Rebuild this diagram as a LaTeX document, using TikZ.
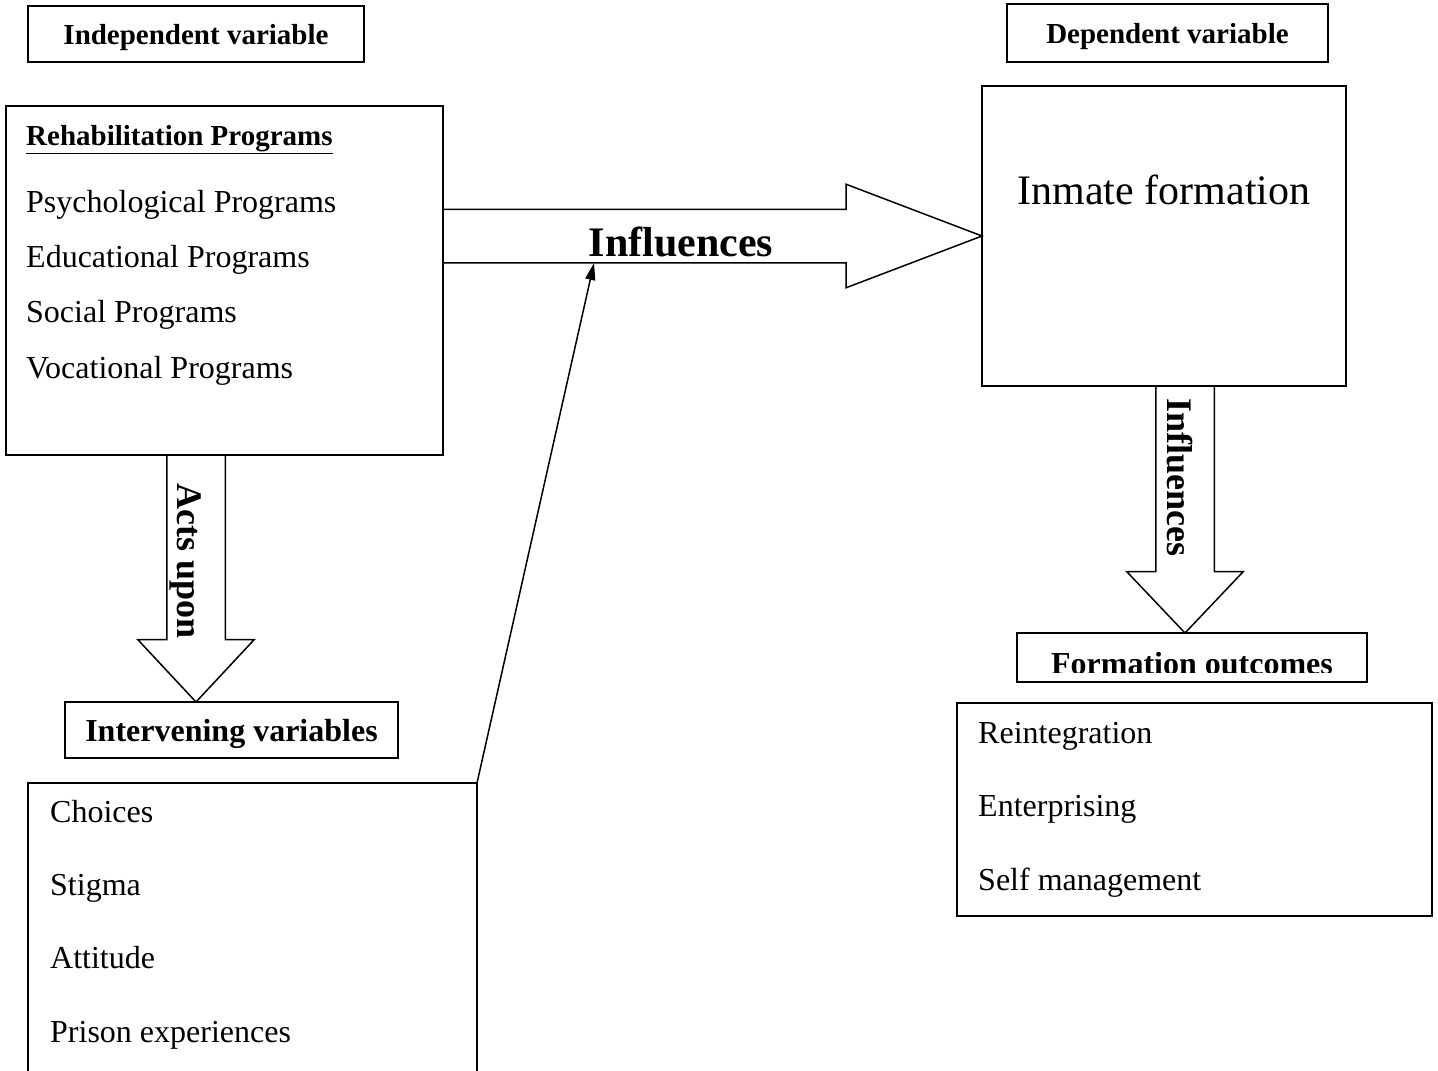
\documentclass[tikz,border=0pt]{standalone}
\usepackage{fontspec}
\setmainfont{Liberation Serif}
\usetikzlibrary{shapes.arrows, arrows.meta, positioning}
\tikzset{
x=1pt, y=-1pt, % one unit per pixel, y grows downwards
box/.style={draw, line width=1.5pt, rectangle, inner sep=0pt, outer sep=0pt, anchor=north west}, % plain frame
headbox/.style={box, font=\bfseries\fontsize{29}{34}\selectfont, text depth=0pt}, % framed heading
listtext/.style={anchor=base west, inner sep=0pt, align=left}, % list of items, placed by its last line
bigarrow/.style={draw, line width=1.5pt, single arrow, single arrow head indent=0pt, outer sep=0pt, anchor=tip}, % hollow block arrow
arrowlabel/.style={font=\bfseries\fontsize{36}{40}\selectfont, inner sep=0pt}, % bold text on a block arrow
}

\begin{document}
\begin{tikzpicture}
\useasboundingbox (0,0) rectangle (1438,1071);

% independent side
\node[headbox, minimum width=336pt, minimum height=56pt] (indep) at (28,6) {Independent variable};
\node[box, minimum width=437pt, minimum height=349pt] (rehab) at (6,106) {};
\node[listtext, font=\bfseries\fontsize{29}{34}\selectfont] (rehabtitle) at (26,145) {\underline{Rehabilitation Programs}};
\node[listtext, font=\fontsize{32}{55.3}\selectfont] (rehablist) at (26,378) {Psychological Programs\\Educational Programs\\Social Programs\\Vocational Programs};

% dependent side
\node[headbox, minimum width=321pt, minimum height=58pt] (dep) at (1007,4) {Dependent variable};
\node[box, minimum width=364pt, minimum height=300pt] (inmate) at (982,86) {};
\node[font=\fontsize{42}{48}\selectfont, anchor=base, inner sep=0pt] (inmatetext) at (1164,204) {Inmate formation};

% main influence
\node[bigarrow, inner sep=26pt, minimum height=539pt, single arrow head extend=25pt, single arrow tip angle=41.7] (influarrow) at (inmate.west) {};
\node[font=\bfseries\fontsize{42}{48}\selectfont, anchor=base, inner sep=0pt] (influlabel) at (681,256) {Influences};

% intervening variables
\node[headbox, font=\bfseries\fontsize{32}{36}\selectfont, minimum width=333pt, minimum height=56pt] (intvar) at (65,702) {Intervening variables};
\node[bigarrow, shape border rotate=270, inner sep=28.5pt, minimum height=247pt, single arrow head extend=29pt, single arrow tip angle=86] (actsarrow) at ([xshift=-35.5pt]intvar.north) {};
\node[arrowlabel, rotate=-90, anchor=base west] (actslabel) at (177,483) {Acts upon};
\node[box, minimum width=449pt, minimum height=320pt] (intlist) at (28,783) {};
\node[listtext, font=\fontsize{32}{73.3}\selectfont] (intitems) at (50,1042) {Choices\\Stigma\\Attitude\\Prison experiences};
\coordinate (shaftpoint) at (594,263);
\draw[-{Triangle[length=17pt,width=10pt]}, line width=1.5pt] (intlist.north east) -- (shaftpoint);

% formation outcomes
\node[box, minimum width=350pt, minimum height=49pt] (outcomes) at (1017,633) {};
\begin{scope}
\clip (outcomes.north west) rectangle ([yshift=10pt]outcomes.south east);
\node[font=\bfseries\fontsize{32}{36}\selectfont, anchor=base, inner sep=0pt] (outtitle) at (1192,674) {Formation outcomes};
\end{scope}
\node[bigarrow, shape border rotate=270, inner sep=28.5pt, minimum height=247pt, single arrow head extend=29pt, single arrow tip angle=87] (outarrow) at ([xshift=-7pt]outcomes.north) {};
\node[arrowlabel, rotate=-90, anchor=base west] (outlabel) at (1167,398) {Influences};
\node[box, minimum width=475pt, minimum height=213pt] (outlist) at (957,703) {};
\node[listtext, font=\fontsize{32}{73.5}\selectfont] (outitems) at (978,890) {Reintegration\\Enterprising\\Self management};
\end{tikzpicture}
\end{document}
